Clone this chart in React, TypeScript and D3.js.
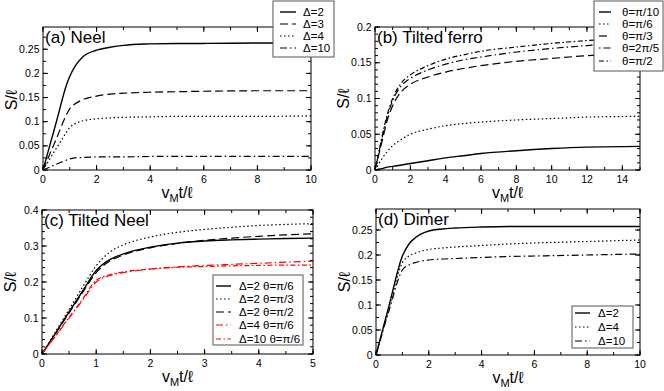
import * as d3 from 'd3';

// (a) Neel
const neelT = [0, 0.5, 0.9, 1.0, 1.2, 1.5, 2, 2.5, 3, 4, 5, 6, 8, 10];
const neelD2 = [0, 0.1, 0.18, 0.194, 0.215, 0.235, 0.248, 0.254, 0.258, 0.261, 0.262, 0.262, 0.263, 0.263];
const neelD3 = [0, 0.065, 0.117, 0.127, 0.137, 0.146, 0.153, 0.157, 0.159, 0.161, 0.162, 0.163, 0.164, 0.164];
const neelD4 = [0, 0.045, 0.08, 0.088, 0.096, 0.102, 0.106, 0.108, 0.109, 0.110, 0.111, 0.111, 0.111, 0.112];
const neelD10 = [0, 0.012, 0.021, 0.023, 0.025, 0.026, 0.027, 0.027, 0.027, 0.028, 0.028, 0.028, 0.028, 0.028];

// (b) Tilted ferro
const ferroT = [0, 0.2, 0.4, 0.7, 1, 1.5, 2, 3, 4, 5, 6, 8, 10, 12, 15];
const ferroPi10 = [0, 0.001, 0.002, 0.004, 0.005, 0.007, 0.009, 0.013, 0.017, 0.020, 0.023, 0.027, 0.030, 0.032, 0.033];
const ferroPi6 = [0, 0.008, 0.016, 0.026, 0.034, 0.043, 0.05, 0.057, 0.062, 0.065, 0.067, 0.070, 0.072, 0.074, 0.075];
const ferroPi3 = [0, 0.02, 0.04, 0.07, 0.09, 0.11, 0.12, 0.13, 0.137, 0.142, 0.146, 0.152, 0.156, 0.160, 0.163];
const ferro2Pi5 = [0, 0.022, 0.045, 0.075, 0.097, 0.118, 0.128, 0.14, 0.148, 0.154, 0.158, 0.165, 0.170, 0.174, 0.178];
const ferroPi2 = [0, 0.023, 0.047, 0.078, 0.1, 0.122, 0.133, 0.146, 0.155, 0.161, 0.166, 0.172, 0.177, 0.181, 0.185];

// (c) Tilted Neel
const tiltT = [0, 0.25, 0.5, 0.75, 1, 1.25, 1.5, 2, 2.5, 3, 3.5, 4, 4.5, 5];
const tiltD2Pi6 = [0, 0.058, 0.117, 0.175, 0.232, 0.262, 0.278, 0.297, 0.308, 0.314, 0.317, 0.319, 0.321, 0.322];
const tiltD2Pi3 = [0, 0.062, 0.124, 0.186, 0.245, 0.283, 0.303, 0.325, 0.338, 0.346, 0.352, 0.357, 0.36, 0.362];
const tiltD2Pi2 = [0, 0.057, 0.114, 0.171, 0.226, 0.258, 0.275, 0.295, 0.307, 0.316, 0.322, 0.327, 0.331, 0.334];
const tiltD4Pi6 = [0, 0.05, 0.1, 0.15, 0.2, 0.218, 0.226, 0.236, 0.242, 0.246, 0.249, 0.252, 0.255, 0.258];
const tiltD10Pi6 = [0, 0.051, 0.102, 0.153, 0.205, 0.22, 0.228, 0.236, 0.241, 0.243, 0.245, 0.246, 0.247, 0.247];

// (d) Dimer
const dimerT = [0, 0.5, 1, 1.25, 1.5, 2, 2.5, 3, 4, 5, 6, 8, 10];
const dimerD2 = [0, 0.1, 0.198, 0.222, 0.235, 0.248, 0.252, 0.254, 0.256, 0.257, 0.257, 0.257, 0.257];
const dimerD4 = [0, 0.095, 0.185, 0.198, 0.204, 0.211, 0.214, 0.216, 0.219, 0.222, 0.224, 0.227, 0.23];
const dimerD10 = [0, 0.09, 0.17, 0.18, 0.185, 0.19, 0.192, 0.193, 0.195, 0.197, 0.198, 0.2, 0.202];

const FONT = 'Liberation Sans, Arial, Helvetica, sans-serif';
const SOLID = '';
const DASHED = '8,4';
const DOTTED = '1.5,2.5';
const DASHDOT = '7,3,1.5,3';

type Series = { label: string; t: number[]; v: number[]; dash: string; color?: string };

type PanelProps = {
  box: { x0: number; y0: number; x1: number; y1: number };
  xMax: number;
  yMax: number;
  xMajor: number;
  xMinor: number;
  yMajor: number;
  yMinor: number;
  title: string;
  series: Series[];
  legend: { x0: number; y0: number; x1: number; y1: number; rows: number[]; s0: number; s1: number; tx: number };
  yLabelY?: number;
};

const steps = (max: number, step: number) => {
  const n = Math.floor(max / step + 1e-6);
  return d3.range(0, n + 1).map(i => +(i * step).toFixed(4));
};

function Panel({ box, xMax, yMax, xMajor, xMinor, yMajor, yMinor, title, series, legend, yLabelY }: PanelProps) {
  const x = d3.scaleLinear().domain([0, xMax]).range([box.x0, box.x1]);
  const y = d3.scaleLinear().domain([0, yMax]).range([box.y1, box.y0]);
  const line = d3.line<number>().curve(d3.curveMonotoneX);

  const xMaj = steps(xMax, xMajor);
  const xMin = steps(xMax, xMinor);
  const yMaj = steps(yMax, yMajor);
  const yMin = steps(yMax, yMinor);
  const cx = (box.x0 + box.x1) / 2;

  return (
    <g>
      {series.map((s, i) => (
        <path
          key={i}
          d={line.x((_, j) => x(s.t[j])).y((d) => y(d))(s.v) || ''}
          fill="none"
          stroke={s.color || '#000'}
          strokeWidth={s.dash ? 1.2 : 1.4}
          strokeDasharray={s.dash || undefined}
        />
      ))}
      <rect x={box.x0} y={box.y0} width={box.x1 - box.x0} height={box.y1 - box.y0} fill="none" stroke="#000" strokeWidth={1} />
      {xMin.map((v, i) => (
        <g key={'xm' + i} stroke="#000">
          <line x1={x(v)} x2={x(v)} y1={box.y1} y2={box.y1 - 3} />
          <line x1={x(v)} x2={x(v)} y1={box.y0} y2={box.y0 + 3} />
        </g>
      ))}
      {xMaj.map((v, i) => (
        <g key={'xM' + i}>
          <line x1={x(v)} x2={x(v)} y1={box.y1} y2={box.y1 - 5} stroke="#000" />
          <line x1={x(v)} x2={x(v)} y1={box.y0} y2={box.y0 + 5} stroke="#000" />
          <text x={x(v)} y={box.y1 + 13} textAnchor="middle" fontSize={10.5} fontFamily={FONT}>{v}</text>
        </g>
      ))}
      {yMin.map((v, i) => (
        <g key={'ym' + i} stroke="#000">
          <line x1={box.x0} x2={box.x0 + 3} y1={y(v)} y2={y(v)} />
          <line x1={box.x1} x2={box.x1 - 3} y1={y(v)} y2={y(v)} />
        </g>
      ))}
      {yMaj.map((v, i) => (
        <g key={'yM' + i}>
          <line x1={box.x0} x2={box.x0 + 5} y1={y(v)} y2={y(v)} stroke="#000" />
          <line x1={box.x1} x2={box.x1 - 5} y1={y(v)} y2={y(v)} stroke="#000" />
          <text x={box.x0 - 3.5} y={y(v) + 3.5} textAnchor="end" fontSize={10.5} fontFamily={FONT}>{v}</text>
        </g>
      ))}
      <text x={box.x0 + 2} y={box.y0 + 16} fontSize={17} fontFamily={FONT}>{title}</text>
      <text x={cx} y={box.y1 + 28} textAnchor="middle" fontSize={16} fontFamily={FONT}>
        v<tspan fontSize={11} dy={4}>M</tspan><tspan dy={-4}>t/ℓ</tspan>
      </text>
      <text
        transform={`translate(${box.x0 - 26},${yLabelY ?? (box.y0 + box.y1) / 2}) rotate(-90)`}
        textAnchor="middle"
        fontSize={16}
        fontFamily={FONT}
      >
        S/ℓ
      </text>
      <rect
        x={legend.x0}
        y={legend.y0}
        width={legend.x1 - legend.x0}
        height={legend.y1 - legend.y0}
        fill="#fff"
        stroke="#555"
        strokeWidth={1}
      />
      {series.map((s, i) => (
        <g key={'lg' + i}>
          <line
            x1={legend.s0}
            x2={legend.s1}
            y1={legend.rows[i]}
            y2={legend.rows[i]}
            stroke={s.color || '#000'}
            strokeWidth={s.dash ? 1.2 : 1.4}
            strokeDasharray={s.dash || undefined}
          />
          <text x={legend.tx} y={legend.rows[i] + 4} fontSize={11.5} fontFamily={FONT}>{s.label}</text>
        </g>
      ))}
    </g>
  );
}

export default function App() {
  return (
    <svg width={664} height={391} style={{ position: 'absolute', left: 0, top: 0, background: '#fff' }}>
      <rect width={664} height={391} fill="#fff" />
      <Panel
        box={{ x0: 43, y0: 27, x1: 311, y1: 170 }}
        xMax={10} yMax={0.296} xMajor={2} xMinor={1} yMajor={0.05} yMinor={0.025}
        title="(a) Neel"
        yLabelY={100}
        series={[
          { label: 'Δ=2', t: neelT, v: neelD2, dash: SOLID },
          { label: 'Δ=3', t: neelT, v: neelD3, dash: DASHED },
          { label: 'Δ=4', t: neelT, v: neelD4, dash: DOTTED },
          { label: 'Δ=10', t: neelT, v: neelD10, dash: DASHDOT },
        ]}
        legend={{ x0: 273, y0: 1, x1: 334, y1: 57, rows: [12, 24, 36, 48], s0: 280, s1: 296, tx: 303 }}
      />
      <Panel
        box={{ x0: 375, y0: 27, x1: 640, y1: 170 }}
        xMax={15} yMax={0.2} xMajor={2} xMinor={1} yMajor={0.05} yMinor={0.01}
        title="(b) Tilted ferro"
        series={[
          { label: 'θ=π/10', t: ferroT, v: ferroPi10, dash: SOLID },
          { label: 'θ=π/6', t: ferroT, v: ferroPi6, dash: DOTTED },
          { label: 'θ=π/3', t: ferroT, v: ferroPi3, dash: DASHED },
          { label: 'θ=2π/5', t: ferroT, v: ferro2Pi5, dash: '1.5,3,7,3' },
          { label: 'θ=π/2', t: ferroT, v: ferroPi2, dash: '5,2.5,1.5,2.5' },
        ]}
        legend={{ x0: 594, y0: 1, x1: 663, y1: 71, rows: [12, 24, 36, 48, 61], s0: 599, s1: 611, tx: 622 }}
      />
      <Panel
        box={{ x0: 42, y0: 210, x1: 313, y1: 354 }}
        xMax={5} yMax={0.4} xMajor={1} xMinor={0.5} yMajor={0.1} yMinor={0.02}
        title="(c) Tilted Neel"
        series={[
          { label: 'Δ=2 θ=π/6', t: tiltT, v: tiltD2Pi6, dash: SOLID },
          { label: 'Δ=2 θ=π/3', t: tiltT, v: tiltD2Pi3, dash: DOTTED },
          { label: 'Δ=2 θ=π/2', t: tiltT, v: tiltD2Pi2, dash: DASHED },
          { label: 'Δ=4 θ=π/6', t: tiltT, v: tiltD4Pi6, dash: DASHDOT, color: '#ff0000' },
          { label: 'Δ=10 θ=π/6', t: tiltT, v: tiltD10Pi6, dash: '5,2.5,1.5,2.5', color: '#ff0000' },
        ]}
        legend={{ x0: 213, y0: 275, x1: 303, y1: 345, rows: [286, 299, 312, 325, 339], s0: 216, s1: 231, tx: 239 }}
      />
      <Panel
        box={{ x0: 376, y0: 209, x1: 640, y1: 355 }}
        xMax={10} yMax={0.292} xMajor={2} xMinor={1} yMajor={0.05} yMinor={0.025}
        title="(d) Dimer"
        series={[
          { label: 'Δ=2', t: dimerT, v: dimerD2, dash: SOLID },
          { label: 'Δ=4', t: dimerT, v: dimerD4, dash: DOTTED },
          { label: 'Δ=10', t: dimerT, v: dimerD10, dash: DASHDOT },
        ]}
        legend={{ x0: 572, y0: 306, x1: 633, y1: 348, rows: [313, 327, 341], s0: 575, s1: 590, tx: 598 }}
      />
    </svg>
  );
}
